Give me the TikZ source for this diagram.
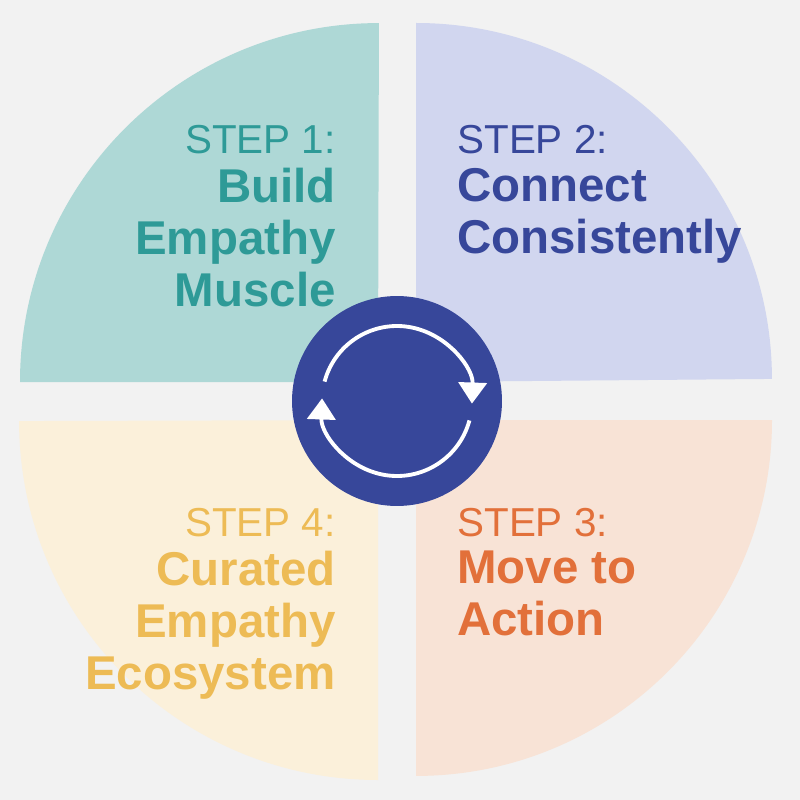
\documentclass[tikz,border=0pt]{standalone}
\usepackage{fontspec}
\setmainfont{Liberation Sans}
\usetikzlibrary{arrows.meta}
\definecolor{bg}{HTML}{F2F2F2}
\definecolor{tealfill}{HTML}{AED8D6}
\definecolor{tealtext}{HTML}{2E9A97}
\definecolor{bluefill}{HTML}{D1D6EF}
\definecolor{bluetext}{HTML}{37479A}
\definecolor{orangefill}{HTML}{F8E3D6}
\definecolor{orangetext}{HTML}{E2703A}
\definecolor{yellowfill}{HTML}{FBF0DA}
\definecolor{yellowtext}{HTML}{EDBB55}
\begin{document}
\begin{tikzpicture}[
  x=0.02cm, y=-0.02cm,
  steplbl/.style={font=\fontsize{23}{28}\selectfont, inner sep=0pt},
  titlelbl/.style={font=\fontsize{27}{29.5}\selectfont\bfseries, inner sep=0pt},
  turn/.style={white, line width=2.2pt, -{Triangle[length=12pt,width=16pt]}}
]

%======================
% BACKGROUND + QUADRANTS
%======================

\fill[bg] (0,0) rectangle (800,800);
\useasboundingbox (0,0) rectangle (800,800);

\fill[tealfill] (378,382) -- (20,382) arc[start angle=180, end angle=90, radius=7.18cm] -- cycle;
\fill[bluefill] (416,382) -- (416,23) arc[start angle=90, end angle=0, radius=7.12cm] -- cycle;
\fill[orangefill] (416,420) -- (772,420) arc[start angle=0, end angle=-90, radius=7.12cm] -- cycle;
\fill[yellowfill] (378,420) -- (378,780) arc[start angle=-90, end angle=-180, radius=7.18cm] -- cycle;

%======================
% LABELS
%======================

\node[steplbl, anchor=east, text=tealtext] (s1) at (336,140) {STEP 1:};
\node[titlelbl, anchor=north east, align=right, text=tealtext] (t1) at (336,168) {Build\\Empathy\\Muscle};

\node[steplbl, anchor=west, text=bluetext] (s2) at (457,140) {STEP 2:};
\node[titlelbl, anchor=north west, align=left, text=bluetext] (t2) at (457,168) {Connect\\Consistently};

\node[steplbl, anchor=west, text=orangetext] (s3) at (457,523) {STEP 3:};
\node[titlelbl, anchor=north west, align=left, text=orangetext] (t3) at (457,551) {Move to\\Action};

\node[steplbl, anchor=east, text=yellowtext] (s4) at (336,523) {STEP 4:};
\node[titlelbl, anchor=north east, align=right, text=yellowtext] (t4) at (336,551) {Curated\\Empathy\\Ecosystem};

%======================
% CENTRE CYCLE
%======================

\node[circle, fill=bluetext, minimum size=4.2cm, inner sep=0pt] (hub) at (397,401) {};
\draw[turn] (hub.center) ++(165:1.5cm) arc[start angle=165, end angle=-2, radius=1.5cm];
\draw[turn] (hub.center) ++(-15:1.5cm) arc[start angle=-15, end angle=-182, radius=1.5cm];

\end{tikzpicture}
\end{document}
